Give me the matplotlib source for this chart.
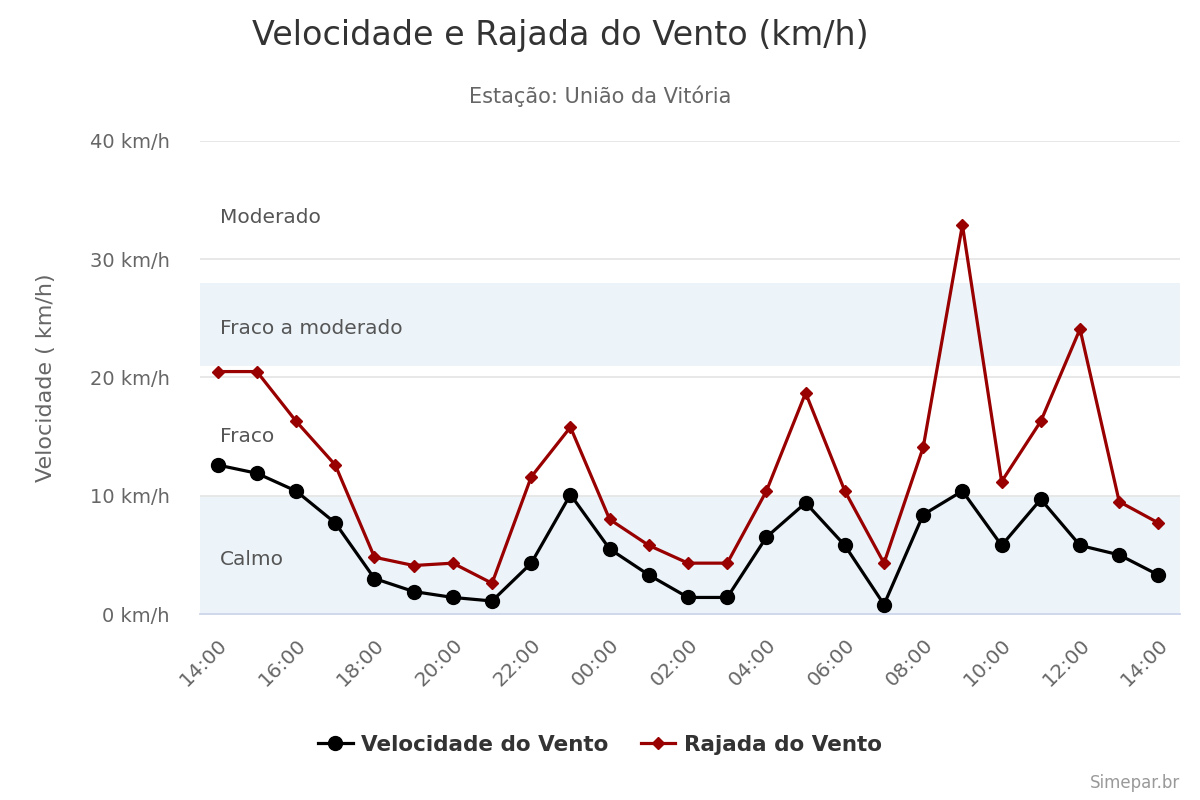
import matplotlib.pyplot as plt
import numpy as np

plt.rcParams['font.family'] = ['DejaVu Sans']

# horas (24h, de 14:00 a 14:00 do dia seguinte)
horas = ["14:00", "15:00", "16:00", "17:00", "18:00", "19:00", "20:00", "21:00",
         "22:00", "23:00", "00:00", "01:00", "02:00", "03:00", "04:00", "05:00",
         "06:00", "07:00", "08:00", "09:00", "10:00", "11:00", "12:00", "13:00", "14:00"]

velocidade = [12.6, 11.9, 10.4, 7.7, 3.0, 1.9, 1.4, 1.1, 4.3, 10.1, 5.5, 3.3, 1.4,
              1.4, 6.5, 9.4, 5.8, 0.8, 8.4, 10.4, 5.8, 9.7, 5.8, 5.0, 3.3]
rajada = [20.5, 20.5, 16.3, 12.6, 4.8, 4.1, 4.3, 2.6, 11.6, 15.8, 8.0, 5.8, 4.3,
          4.3, 10.4, 18.7, 10.4, 4.3, 14.1, 32.9, 11.2, 16.3, 24.1, 9.5, 7.7]

# faixas de classificação
faixas = [(0, 10), (21, 28)]
faixa_rotulos = ["Moderado", "Fraco a moderado", "Fraco", "Calmo"]
faixa_rotulos_y = [33.5, 24.1, 15.0, 4.6]

fig = plt.figure(figsize=(12, 8), dpi=100)
ax = fig.add_axes([0.1667, 0.2325, 0.8166, 0.5913])

x = np.arange(len(horas))
for lo, hi in faixas:
    ax.axhspan(lo, hi, color='#ecf4fa', zorder=0, lw=0)
for lab, yy in zip(faixa_rotulos, faixa_rotulos_y):
    ax.text(0.05, yy, lab, fontsize=14.5, color='#555555', va='center', ha='left', zorder=1)

for g in [10, 20, 30, 40]:
    ax.axhline(g, color='#e6e6e6', lw=1.3, zorder=0.5)

ax.plot(x, velocidade, color='black', lw=2.3, marker='o', ms=10, zorder=3,
        label='Velocidade do Vento')
ax.plot(x, rajada, color='#990000', lw=2.3, marker='D', ms=6.5, zorder=3,
        label='Rajada do Vento')

ax.set_xlim(-0.45, len(horas) - 0.45)
ax.set_ylim(0, 40)
ax.set_yticks([0, 10, 20, 30, 40])
ax.set_yticklabels([f"{v} km/h" for v in [0, 10, 20, 30, 40]])
ax.set_xticks(x[::2])
ax.set_xticklabels(horas[::2], rotation=45, ha='right', rotation_mode='anchor')

for s in ['top', 'right', 'left']:
    ax.spines[s].set_visible(False)
ax.spines['bottom'].set_color('#ccd6eb')
ax.spines['bottom'].set_linewidth(1.3)
ax.tick_params(axis='y', length=0, pad=22, labelsize=14, labelcolor='#666666')
ax.tick_params(axis='x', length=0, pad=15, labelsize=14.5, labelcolor='#666666')

ax.set_ylabel('Velocidade ( km/h)', fontsize=16, color='#666666', labelpad=24)

fig.text(560 / 1200, 1 - 36 / 800, 'Velocidade e Rajada do Vento (km/h)', fontsize=24,
         color='#333333', ha='center', va='center')
fig.text(0.5, 1 - 96 / 800, 'Estação: União da Vitória', fontsize=15,
         color='#666666', ha='center', va='center')

leg = fig.legend(loc='center', bbox_to_anchor=(0.5, 1 - 745 / 800), ncol=2, frameon=False,
                 prop={'family': ['DejaVu Sans Condensed', 'DejaVu Sans'], 'weight': 'bold', 'size': 15.5},
                 handlelength=1.6, columnspacing=1.5, handletextpad=0.4)
for t in leg.get_texts():
    t.set_color('#333333')

fig.text(1180 / 1200, 1 - 783 / 800, 'Simepar.br', fontsize=12, color='#999999',
         ha='right', va='center', family=['DejaVu Sans Condensed', 'DejaVu Sans'])

fig.savefig('out.png', dpi=100)
